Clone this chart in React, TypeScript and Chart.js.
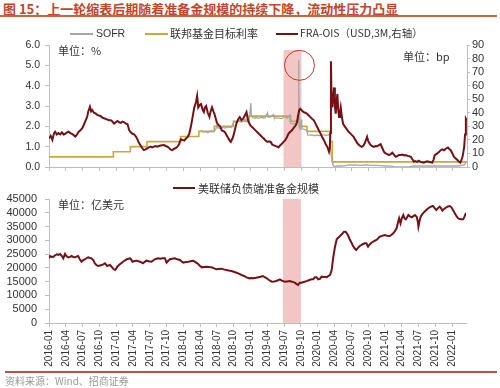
import React, { useEffect, useRef } from 'react';
import { Chart, registerables } from 'chart.js';

Chart.register(...registerables);

// x values are months since 2016-01-01
const X_MAX = 74.5;

const xTickLabels = [
  '2016-01', '2016-04', '2016-07', '2016-10', '2017-01', '2017-04', '2017-07', '2017-10',
  '2018-01', '2018-04', '2018-07', '2018-10', '2019-01', '2019-04', '2019-07', '2019-10',
  '2020-01', '2020-04', '2020-07', '2020-10', '2021-01', '2021-04', '2021-07', '2021-10', '2022-01',
];

// SOFR (%), left axis
const sofrPct: [number, number][] = [
  [27.07, 1.83], [27.3, 1.75], [27.6, 1.72], [27.95, 1.75], [28.2, 1.7], [28.5, 1.72], [28.95, 1.8],
  [29.1, 1.72], [29.5, 1.77], [29.8, 1.9], [29.97, 2.1], [30.1, 1.92], [30.5, 1.9], [30.97, 1.95],
  [31.1, 1.92], [31.5, 1.92], [31.97, 1.98], [32.1, 1.95], [32.5, 1.96], [32.97, 2.25], [33.1, 2.22],
  [33.5, 2.2], [33.97, 2.28], [34.1, 2.22], [34.5, 2.22], [34.97, 2.35], [35.1, 2.28], [35.5, 2.35],
  [35.75, 2.45], [35.97, 3.15], [36.07, 2.55], [36.3, 2.42], [36.7, 2.4], [36.97, 2.45], [37.1, 2.4],
  [37.5, 2.4], [37.97, 2.45], [38.1, 2.42], [38.5, 2.42], [38.95, 2.67], [39.05, 2.45], [39.5, 2.45],
  [39.97, 2.58], [40.1, 2.45], [40.5, 2.4], [40.97, 2.4], [41.1, 2.4], [41.5, 2.38], [41.97, 2.5],
  [42.1, 2.45], [42.5, 2.4], [42.97, 2.55], [43.1, 2.15], [43.5, 2.12], [43.97, 2.15], [44.1, 2.15],
  [44.4, 2.2], [44.5, 2.43], [44.53, 5.25], [44.57, 2.56], [44.65, 1.95], [44.8, 1.86], [45.0, 2.35],
  [45.05, 1.88], [45.5, 1.85], [45.97, 1.82], [46.1, 1.58], [46.5, 1.57], [46.97, 1.58], [47.1, 1.55],
  [47.5, 1.55], [47.97, 1.57], [48.1, 1.55], [48.5, 1.56], [48.97, 1.58], [49.1, 1.58], [49.5, 1.56],
  [49.97, 1.6], [50.1, 1.1], [50.3, 0.55], [50.5, 0.26], [50.6, 0.1], [50.8, 0.02], [51.1, 0.04],
  [51.5, 0.05], [52.0, 0.05], [52.5, 0.06], [53.0, 0.08], [53.5, 0.1], [54.0, 0.09], [54.5, 0.1],
  [55.0, 0.09], [55.5, 0.08], [56.0, 0.09], [56.5, 0.1], [57.0, 0.09], [57.5, 0.08], [58.0, 0.08],
  [58.5, 0.08], [59.0, 0.07], [59.5, 0.06], [60.0, 0.05], [60.5, 0.04], [61.0, 0.04], [61.5, 0.02],
  [62.0, 0.01], [63.0, 0.01], [64.0, 0.01], [64.5, 0.03], [65.0, 0.05], [66.0, 0.05], [67.0, 0.05],
  [68.0, 0.05], [69.0, 0.05], [70.0, 0.05], [71.0, 0.05], [72.0, 0.05], [73.0, 0.05], [74.0, 0.1],
  [74.45, 0.27],
];

// Fed funds target rate upper bound (%), left axis, step changes
const fedTargetPct: [number, number][] = [
  [0, 0.5], [11.47, 0.75], [14.5, 1.0], [17.47, 1.25], [23.45, 1.5], [26.7, 1.75], [29.45, 2.0],
  [32.87, 2.25], [35.63, 2.5], [42.97, 2.25], [44.6, 2.0], [45.97, 1.75], [50.1, 1.25], [50.5, 0.25],
  [74.5, 0.25],
];

// FRA-OIS spread (USD, 3M, bp), right axis
const fraOisBp: [number, number][] = [
  [0, 21], [0.3, 23], [0.6, 20], [0.9, 25], [1.1, 26], [1.4, 24], [1.7, 25], [2.0, 24], [2.3, 25.5],
  [2.6, 24], [2.9, 24.5], [3.2, 25.5], [3.5, 26], [3.8, 25], [4.1, 24.5], [4.4, 23.5], [4.7, 22.5],
  [5.0, 24], [5.3, 26], [5.6, 27], [5.9, 28.5], [6.2, 31], [6.5, 34], [6.8, 37], [7.0, 41], [7.3, 44.5],
  [7.5, 41], [7.7, 42], [8.0, 40], [8.3, 39.5], [8.6, 38.5], [8.9, 38], [9.2, 37.5], [9.5, 36.5],
  [9.8, 36], [10.1, 35.5], [10.4, 35], [10.7, 34.5], [11.0, 34.5], [11.3, 33.5], [11.6, 32], [11.9, 33],
  [12.2, 34], [12.5, 33], [12.8, 32.5], [13.1, 33.5], [13.4, 33], [13.7, 32], [14.0, 31.5], [14.3, 27],
  [14.6, 25.5], [14.9, 24.5], [15.2, 24], [15.5, 22.5], [15.8, 20], [16.0, 18], [16.3, 16], [16.6, 14],
  [16.9, 12.5], [17.2, 13], [17.5, 13.8], [17.8, 14.5], [18.1, 15], [18.4, 14.5], [18.7, 15], [19.0, 15.5],
  [19.3, 15], [19.6, 15.5], [19.9, 15.8], [20.2, 16], [20.5, 16.2], [20.8, 15.5], [21.1, 15], [21.4, 14],
  [21.7, 12.8], [22.0, 12.5], [22.3, 13.5], [22.6, 14], [22.9, 15], [23.2, 17], [23.5, 20.5], [23.8, 20],
  [24.1, 19.5], [24.4, 21], [24.7, 22], [25.0, 24.5], [25.3, 30], [25.6, 37], [25.9, 44], [26.2, 48],
  [26.4, 52.5], [26.6, 44], [26.9, 46], [27.1, 46.5], [27.4, 42], [27.6, 40.5], [27.8, 44], [28.0, 45],
  [28.3, 40], [28.6, 37], [28.8, 41], [29.05, 44], [29.3, 41], [29.5, 39], [29.7, 36], [29.9, 33],
  [30.2, 31], [30.5, 30], [30.8, 27], [31.1, 26.5], [31.4, 25.5], [31.7, 23], [32.0, 21], [32.2, 19.5],
  [32.4, 18.5], [32.7, 21], [32.9, 23.5], [33.1, 27], [33.4, 32], [33.7, 35], [34.0, 36.8], [34.3, 34.5],
  [34.6, 35.6], [34.9, 38], [35.2, 40.5], [35.4, 36], [35.6, 33], [35.9, 30.7], [36.2, 29.5], [36.5, 28.3],
  [36.8, 27], [37.1, 25.8], [37.4, 24.5], [37.7, 23.4], [38.0, 22], [38.3, 21], [38.6, 19.5], [38.9, 18.5],
  [39.2, 19], [39.5, 18.5], [39.8, 16.5], [40.1, 16], [40.4, 15.4], [40.7, 15], [40.9, 14.4], [41.2, 16],
  [41.55, 17.3], [41.8, 18.5], [42.1, 19.8], [42.4, 22], [42.7, 24.6], [43.0, 26], [43.3, 27], [43.55, 28.5],
  [43.75, 29.5], [44.0, 31], [44.2, 33], [44.4, 38], [44.6, 42], [44.8, 43], [45.1, 41.5], [45.4, 40.5],
  [45.7, 40], [46.0, 39.3], [46.3, 38], [46.6, 36.8], [46.9, 35.5], [47.2, 34.4], [47.5, 32], [47.8, 29.5],
  [48.1, 27], [48.4, 24.6], [48.7, 22], [49.0, 19.8], [49.3, 17], [49.6, 14.9], [49.9, 11.2], [50.05, 14],
  [50.15, 25], [50.25, 78], [50.35, 50], [50.5, 44], [50.65, 52], [50.8, 58.7], [50.95, 45], [51.1, 39.3],
  [51.25, 48], [51.4, 53.9], [51.55, 42], [51.7, 36.8], [51.85, 40], [52.0, 44], [52.2, 37], [52.4, 32],
  [52.7, 30], [53.0, 28.3], [53.4, 26], [53.75, 24.6], [54.0, 23.5], [54.3, 22.2], [54.6, 20], [55.0, 17.3],
  [55.3, 16], [55.7, 14.9], [56.0, 15.5], [56.25, 17.3], [56.5, 20], [56.7, 22.2], [56.9, 19], [57.2, 16.8],
  [57.5, 15.5], [57.9, 14.9], [58.2, 15.5], [58.5, 15.4], [58.8, 16.1], [59.1, 16.8], [59.4, 14], [59.7, 11.2],
  [60.0, 10], [60.3, 9.5], [60.6, 8.8], [60.9, 9.5], [61.2, 10.5], [61.5, 9], [61.8, 7.5], [62.1, 8.2],
  [62.4, 8.8], [62.7, 8.8], [63.0, 9.2], [63.3, 8.5], [63.6, 8.8], [63.9, 8.2], [64.2, 8], [64.5, 7.5],
  [64.8, 5.5], [65.05, 3.9], [65.3, 4.3], [65.6, 3.8], [65.9, 4.6], [66.2, 3.8], [66.5, 3.5], [66.8, 3.2],
  [67.1, 3.8], [67.4, 4.2], [67.7, 3.9], [68.0, 3.5], [68.3, 3.2], [68.55, 5.5], [68.75, 8.8], [69.0, 9.5],
  [69.2, 10], [69.5, 11], [69.8, 12.4], [70.1, 13], [70.4, 12.4], [70.7, 13.5], [71.1, 14.4], [71.4, 13],
  [71.6, 12.4], [71.9, 10], [72.2, 7.5], [72.5, 6.2], [72.8, 5.1], [73.05, 4], [73.3, 3.2], [73.5, 5],
  [73.7, 7.5], [73.85, 11], [74.0, 14.9], [74.15, 24], [74.3, 35.6], [74.45, 34.4],
];

// Fed reserve balances (亿美元)
const reserves: [number, number][] = [
  [0, 23480], [0.2, 24300], [0.5, 24000], [0.8, 24070], [1.1, 24600], [1.4, 24930], [1.7, 24700],
  [2.0, 25040], [2.3, 24310], [2.55, 23480], [2.86, 25040], [3.1, 24300], [3.45, 23840], [3.75, 24000],
  [4.05, 24310], [4.35, 23900], [4.64, 23840], [4.9, 24100], [5.2, 24310], [5.5, 23120], [5.8, 22250],
  [6.1, 22800], [6.4, 23120], [6.7, 23500], [7.0, 23840], [7.3, 23600], [7.6, 23480], [7.9, 22860],
  [8.2, 21650], [8.5, 21000], [8.8, 20680], [9.1, 20900], [9.4, 21050], [9.7, 21300], [10.0, 21650],
  [10.2, 21200], [10.4, 20680], [10.65, 20900], [10.9, 21050], [11.15, 20500], [11.4, 19840], [11.6, 19500],
  [11.8, 19230], [12.0, 19700], [12.2, 20440], [12.6, 21200], [13.0, 21890], [13.4, 22500], [13.9, 23120],
  [14.2, 23300], [14.5, 23480], [14.7, 23000], [14.9, 22250], [15.3, 22500], [15.7, 22620], [16.0, 22400],
  [16.25, 22250], [16.5, 22000], [16.8, 21650], [17.1, 22200], [17.4, 22620], [17.8, 22400], [18.3, 22250],
  [18.6, 22700], [18.9, 23120], [19.2, 23300], [19.5, 23480], [19.9, 23300], [20.3, 23480], [20.7, 23500],
  [21.0, 21890], [21.3, 22600], [21.6, 23120], [22.0, 23300], [22.5, 23480], [22.9, 23100], [23.4, 22860],
  [23.7, 22300], [24.0, 21890], [24.4, 22100], [24.9, 22250], [25.3, 22400], [25.8, 22600], [26.1, 22200],
  [26.5, 21650], [26.9, 20900], [27.3, 20200], [27.7, 20300], [28.2, 20440], [28.6, 20300], [29.05, 20200],
  [29.5, 19800], [29.9, 19480], [30.3, 19600], [30.8, 19720], [31.2, 19450], [31.7, 19230], [32.1, 19050],
  [32.6, 18870], [33.0, 18600], [33.5, 18260], [34.0, 17850], [34.4, 17420], [34.9, 17000], [35.3, 16580],
  [35.8, 16200], [36.2, 16300], [36.5, 16220], [37.0, 16400], [37.4, 16580], [37.8, 16800], [38.2, 17060],
  [38.6, 16600], [38.9, 16220], [39.3, 15600], [39.8, 15000], [40.2, 15100], [40.6, 15240], [40.9, 15500],
  [41.25, 15860], [41.6, 15400], [42.1, 15000], [42.5, 15100], [43.0, 15240], [43.4, 15000], [43.9, 14640],
  [44.2, 14200], [44.5, 13790], [44.8, 14640], [45.1, 14640], [45.5, 14900], [46.0, 15200], [46.4, 15500],
  [46.9, 15860], [47.2, 15860], [47.5, 16580], [47.8, 16580], [48.1, 15860], [48.4, 16000], [48.7, 16810],
  [49.0, 16700], [49.3, 16810], [49.6, 16580], [49.9, 17060], [50.2, 17420], [50.5, 19230], [50.8, 24070],
  [51.1, 27700], [51.4, 30370], [51.7, 31000], [52.0, 31570], [52.4, 32400], [52.7, 33140], [53.0, 33140],
  [53.4, 31930], [53.7, 30500], [54.05, 29140], [54.3, 28000], [54.6, 27100], [54.9, 26490], [55.2, 27300],
  [55.5, 27940], [55.8, 28300], [56.1, 28670], [56.4, 28900], [56.7, 28920], [57.0, 27700], [57.3, 28500],
  [57.6, 29140], [58.0, 29600], [58.5, 30120], [58.8, 30700], [59.1, 31330], [59.5, 31600], [60.0, 31930],
  [60.4, 31700], [60.9, 31570], [61.2, 32000], [61.5, 32550], [61.8, 33300], [62.1, 34370], [62.35, 36500],
  [62.55, 37990], [62.8, 36180], [63.05, 38200], [63.3, 39190], [63.5, 38000], [63.75, 37630], [64.0, 38500],
  [64.2, 39190], [64.5, 38700], [64.8, 38350], [65.1, 38800], [65.4, 39190], [65.7, 38500], [65.9, 36780],
  [66.0, 34950], [66.2, 37000], [66.4, 38590], [66.7, 39500], [67.1, 40400], [67.5, 41200], [68.0, 41990],
  [68.3, 42300], [68.6, 42460], [68.9, 41700], [69.2, 41000], [69.5, 41700], [69.8, 42220], [70.1, 41500],
  [70.3, 40760], [70.6, 41400], [71.0, 41990], [71.3, 42300], [71.6, 42460], [71.9, 41990], [72.2, 40900],
  [72.5, 39800], [72.8, 38800], [73.1, 37990], [73.4, 37700], [73.7, 37630], [74.0, 37630], [74.25, 38700],
  [74.5, 39920],
];

// highlighted period (months) and annotation
const stressBand = [41.8, 45.0];
const stressBandTopPct = 5.75;
const circleAt = { month: 44.64, pct: 5.0 };

const TEXT = '#333333';
const AXIS = '#bfbfbf';
const RED = '#721214';
const GOLD = '#c9a83e';
const GRAY = '#a6a6a6';
const BAND = '#f3c6c6';
const FONT = "'Liberation Sans', Arial, sans-serif";
const CJK = "'Noto Sans CJK SC', 'Noto Sans', sans-serif";

const xTickMonths = xTickLabels.map((_, i) => i * 3);
const toXY = (arr: [number, number][]) => arr.map(([x, y]) => ({ x, y }));

const bandPlugin = (axisId: string, topValue: number | null) => ({
  id: 'band',
  beforeDatasetsDraw(chart: any) {
    const { ctx, chartArea, scales } = chart;
    const x0 = scales.x.getPixelForValue(stressBand[0]);
    const x1 = scales.x.getPixelForValue(stressBand[1]);
    const yTop = topValue == null ? chartArea.top : scales[axisId].getPixelForValue(topValue);
    ctx.save();
    ctx.fillStyle = BAND;
    ctx.fillRect(x0, yTop, x1 - x0, chartArea.bottom - yTop);
    ctx.restore();
  },
});

const circlePlugin = {
  id: 'circle',
  afterDatasetsDraw(chart: any) {
    const { ctx, scales } = chart;
    const cx = scales.x.getPixelForValue(circleAt.month);
    const cy = scales.y.getPixelForValue(circleAt.pct);
    ctx.save();
    ctx.strokeStyle = '#c0392b';
    ctx.lineWidth = 1;
    ctx.beginPath();
    ctx.ellipse(cx, cy, 15, 15, 0, 0, Math.PI * 2);
    ctx.stroke();
    ctx.restore();
  },
};

function TopChart() {
  const ref = useRef<HTMLCanvasElement>(null);
  useEffect(() => {
    const chart = new Chart(ref.current!, {
      type: 'line',
      data: {
        datasets: [
          { label: 'FRA-OIS', data: toXY(fraOisBp), yAxisID: 'y1', borderColor: RED, borderWidth: 2, pointRadius: 0, order: 0 },
          { label: 'SOFR', data: toXY(sofrPct), yAxisID: 'y', borderColor: GRAY, borderWidth: 1.3, pointRadius: 0, order: 1 },
          { label: '联邦基金目标利率', data: toXY(fedTargetPct), yAxisID: 'y', stepped: 'before', borderColor: GOLD, borderWidth: 1.6, pointRadius: 0, order: 1 },
        ],
      } as any,
      options: {
        animation: false,
        responsive: false,
        maintainAspectRatio: false,
        layout: { padding: { top: 45, left: 0, right: 0, bottom: 0 } },
        plugins: { legend: { display: false }, tooltip: { enabled: false } },
        scales: {
          x: {
            type: 'linear', min: 0, max: X_MAX,
            afterBuildTicks: (s: any) => { s.ticks = xTickMonths.map((v) => ({ value: v })); },
            ticks: { display: false },
            grid: { drawOnChartArea: false, drawTicks: true, tickLength: 4, color: AXIS },
            border: { color: AXIS },
            afterFit: (s: any) => { s.height = 12; },
          },
          y: {
            position: 'left', min: 0, max: 6,
            ticks: { stepSize: 1, autoSkip: false, callback: (v: any) => Number(v).toFixed(1), color: TEXT, font: { family: FONT, size: 10.5 }, padding: 5 },
            grid: { drawOnChartArea: false, tickLength: 4, color: AXIS },
            border: { color: AXIS },
            afterFit: (s: any) => { s.width = 49; },
          },
          y1: {
            position: 'right', min: 0, max: 90,
            ticks: { stepSize: 10, autoSkip: false, color: TEXT, font: { family: FONT, size: 11 }, padding: 2 },
            grid: { drawOnChartArea: false, tickLength: 3, color: AXIS },
            border: { color: AXIS },
            afterFit: (s: any) => { s.width = 33; },
          },
        },
      } as any,
      plugins: [bandPlugin('y', stressBandTopPct), circlePlugin],
    });
    return () => chart.destroy();
  }, []);
  return <canvas ref={ref} width={500} height={179} style={{ position: 'absolute', left: 0, top: 0, width: 500, height: 179 }} />;
}

function BottomChart() {
  const ref = useRef<HTMLCanvasElement>(null);
  useEffect(() => {
    const chart = new Chart(ref.current!, {
      type: 'line',
      data: {
        datasets: [
          { label: '美联储负债端准备金规模', data: toXY(reserves), borderColor: RED, borderWidth: 2, pointRadius: 0 },
        ],
      } as any,
      options: {
        animation: false,
        responsive: false,
        maintainAspectRatio: false,
        layout: { padding: { top: 24, left: 0, right: 34, bottom: 0 } },
        plugins: { legend: { display: false }, tooltip: { enabled: false } },
        scales: {
          x: {
            type: 'linear', min: 0, max: X_MAX,
            afterBuildTicks: (s: any) => { s.ticks = xTickMonths.map((v) => ({ value: v })); },
            ticks: {
              autoSkip: false, minRotation: 90, maxRotation: 90, padding: 3,
              callback: (v: any) => xTickLabels[Math.round(Number(v) / 3)] ?? '',
              color: TEXT, font: { family: FONT, size: 10 },
            },
            grid: { drawOnChartArea: false, drawTicks: true, tickLength: 4, color: AXIS },
            border: { color: AXIS },
            afterFit: (s: any) => { s.height = 47; },
          },
          y: {
            position: 'left', min: 0, max: 45000,
            ticks: { stepSize: 5000, autoSkip: false, callback: (v: any) => String(v), color: TEXT, font: { family: FONT, size: 11 }, padding: 8 },
            grid: { drawOnChartArea: false, tickLength: 4, color: AXIS },
            border: { color: AXIS },
            afterFit: (s: any) => { s.width = 49; },
          },
        },
      } as any,
      plugins: [bandPlugin('y', null)],
    });
    return () => chart.destroy();
  }, []);
  return <canvas ref={ref} width={500} height={195} style={{ position: 'absolute', left: 0, top: 175, width: 500, height: 195 }} />;
}

function Txt(props: { x: number; y: number; size: number; color?: string; bold?: boolean; family?: string; children: React.ReactNode }) {
  const { x, y, size, color = TEXT, bold, family = CJK, children } = props;
  return (
    <div style={{ position: 'absolute', left: x, top: y - size / 2, fontSize: size, lineHeight: `${size}px`, height: size, color, fontWeight: bold ? 700 : 400, fontFamily: family, whiteSpace: 'nowrap' }}>
      {children}
    </div>
  );
}

function LegendLine(props: { x: number; y: number; w: number; color: string }) {
  return <div style={{ position: 'absolute', left: props.x, top: props.y - 1, width: props.w, height: 2, background: props.color }} />;
}

export default function App() {
  return (
    <div style={{ position: 'fixed', left: 0, top: 0, width: 500, height: 388, background: '#fff', overflow: 'hidden' }}>
      <Txt x={3} y={8.5} size={13} bold color="#c2452d">图 15：上一轮缩表后期随着准备金规模的持续下降，流动性压力凸显</Txt>
      <div style={{ position: 'absolute', left: 0, top: 15, width: 497, height: 1.5, background: '#c8643c' }} />

      <TopChart />
      <BottomChart />

      <LegendLine x={70} y={33.5} w={23} color={GRAY} />
      <Txt x={96} y={33.5} size={10.5} family={FONT}>SOFR</Txt>
      <LegendLine x={145} y={33.5} w={23} color={GOLD} />
      <Txt x={170} y={33.5} size={11}>联邦基金目标利率</Txt>
      <LegendLine x={276} y={33.5} w={22} color={RED} />
      <Txt x={300} y={33.5} size={10.5}>FRA-OIS（USD,3M,右轴）</Txt>

      <Txt x={58} y={50} size={11}>单位：%</Txt>
      <Txt x={403} y={56} size={11}>单位：bp</Txt>

      <LegendLine x={173} y={188} w={22} color={RED} />
      <Txt x={198} y={188} size={11}>美联储负债端准备金规模</Txt>
      <Txt x={58} y={204} size={11}>单位：亿美元</Txt>

      <div style={{ position: 'absolute', left: 5, top: 371, width: 492, height: 1.5, background: '#c0504d' }} />
      <Txt x={5} y={381} size={10} color="#9a9a9a">资料来源：Wind、招商证券</Txt>
    </div>
  );
}
